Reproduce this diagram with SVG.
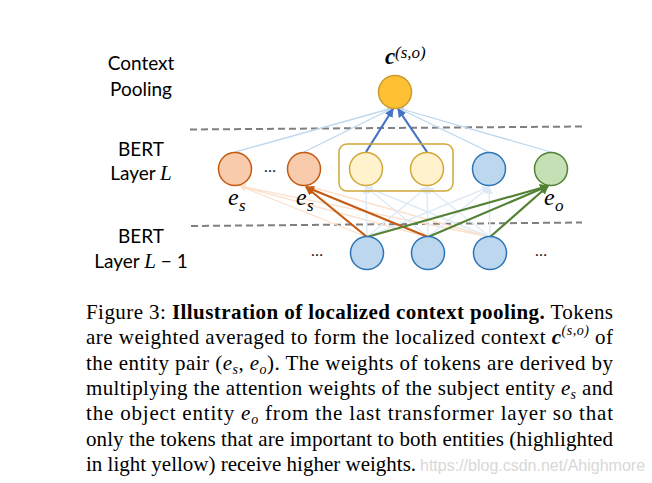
<svg xmlns="http://www.w3.org/2000/svg" width="652" height="483" viewBox="0 0 652 483">
<style>
.lbl{font-family:Lato,"Open Sans",sans-serif;font-size:19px;fill:#000;text-anchor:middle}
.math{font-family:"Liberation Serif","DejaVu Serif",serif;font-style:italic}
.cap{font-family:"Liberation Serif","Times New Roman",serif;font-size:21px;fill:#000}
.dots{font-family:Lato,sans-serif;font-size:16px;fill:#222;text-anchor:middle}
.dash{stroke:#7f7f7f;stroke-width:2;stroke-dasharray:7 4;fill:none}
.or{fill:#F8CBAD;stroke:#C55A11;stroke-width:1.5}
.ye{fill:#FFF2CC;stroke:#D0A838;stroke-width:1.5}
.bl{fill:#BDD7EE;stroke:#2E75B6;stroke-width:1.5}
.gr{fill:#C5E0B4;stroke:#548235;stroke-width:1.5}
.top{fill:#FFC134;stroke:#CC9A2E;stroke-width:1.5}
.lb1{stroke:#BDD7EE;stroke-width:1.3;fill:none}
.lb2{stroke:#DEEBF7;stroke-width:1.5;fill:none}
.lo{stroke:#FBE0CC;stroke-width:1.3;fill:none}
.tor{stroke:#C55A11;stroke-width:2.2;fill:none}
.tgr{stroke:#548235;stroke-width:2.2;fill:none}
.tbl{stroke:#4472C4;stroke-width:2.2;fill:none}
</style>
<defs>
<marker id="mOr" viewBox="0 0 10 10" refX="9" refY="5" markerWidth="4" markerHeight="4" orient="auto" markerUnits="strokeWidth"><path d="M0,0 L10,5 L0,10 z" fill="#C55A11"/></marker>
<marker id="mGr" viewBox="0 0 10 10" refX="9" refY="5" markerWidth="4" markerHeight="4" orient="auto" markerUnits="strokeWidth"><path d="M0,0 L10,5 L0,10 z" fill="#548235"/></marker>
<marker id="mBl" viewBox="0 0 10 10" refX="9" refY="5" markerWidth="4" markerHeight="4" orient="auto" markerUnits="strokeWidth"><path d="M0,0 L10,5 L0,10 z" fill="#4472C4"/></marker>
<marker id="mLb" viewBox="0 0 10 10" refX="9" refY="5" markerWidth="5" markerHeight="5" orient="auto" markerUnits="strokeWidth"><path d="M0,0 L10,5 L0,10 z" fill="#DEEBF7"/></marker>
<marker id="mLb1" viewBox="0 0 10 10" refX="9" refY="5" markerWidth="5" markerHeight="5" orient="auto" markerUnits="strokeWidth"><path d="M0,0 L10,5 L0,10 z" fill="#BDD7EE"/></marker>
<marker id="mLo" viewBox="0 0 10 10" refX="9" refY="5" markerWidth="5" markerHeight="5" orient="auto" markerUnits="strokeWidth"><path d="M0,0 L10,5 L0,10 z" fill="#FBE0CC"/></marker>
</defs>

<!-- layer labels -->
<g id="labels">
<text class="lbl" x="141" y="70">Context</text>
<text class="lbl" x="141" y="96">Pooling</text>
<text class="lbl" x="141" y="156">BERT</text>
<text class="lbl" x="141" y="180">Layer <tspan class="math" font-size="21">L</tspan></text>
<text class="lbl" x="141" y="243">BERT</text>
<text class="lbl" x="141" y="268">Layer <tspan class="math" font-size="21">L</tspan> − 1</text>
</g>

<!-- dashed separators -->
<line class="dash" x1="190" y1="129.5" x2="582" y2="126.5"/>
<line class="dash" x1="191" y1="226" x2="582" y2="222.5"/>

<g id="connectors">
<!-- light lines from layer L to top -->
<line class="lb1" x1="235" y1="152" x2="393" y2="108" marker-end="url(#mLb1)"/>
<line class="lb1" x1="304" y1="152" x2="393" y2="108" marker-end="url(#mLb1)"/>
<line class="lb1" x1="489" y1="152" x2="398" y2="108" marker-end="url(#mLb1)"/>
<line class="lb1" x1="551" y1="152" x2="398" y2="108" marker-end="url(#mLb1)"/>
<!-- light lines from L-1 to layer L -->
<line class="lo" x1="367" y1="237" x2="240" y2="186" marker-end="url(#mLo)"/>
<line class="lo" x1="428" y1="237" x2="240" y2="186" marker-end="url(#mLo)"/>
<line class="lo" x1="490" y1="237" x2="240" y2="186" marker-end="url(#mLo)"/>
<line class="lo" x1="490" y1="237" x2="308" y2="186"/>
<line class="lb2" x1="367" y1="237" x2="366" y2="187" marker-end="url(#mLb)"/>
<line class="lb2" x1="428" y1="237" x2="366" y2="187" marker-end="url(#mLb)"/>
<line class="lb2" x1="490" y1="237" x2="366" y2="187" marker-end="url(#mLb)"/>
<line class="lb2" x1="367" y1="237" x2="427" y2="187" marker-end="url(#mLb)"/>
<line class="lb2" x1="428" y1="237" x2="427" y2="187" marker-end="url(#mLb)"/>
<line class="lb2" x1="490" y1="237" x2="427" y2="187" marker-end="url(#mLb)"/>
<line class="lb2" x1="367" y1="237" x2="489" y2="187" marker-end="url(#mLb)"/>
<line class="lb2" x1="428" y1="237" x2="489" y2="187" marker-end="url(#mLb)"/>
<line class="lb2" x1="490" y1="237" x2="489" y2="187" marker-end="url(#mLb)"/>
<!-- strong lines -->
<line class="tor" x1="367" y1="237" x2="306" y2="187" marker-end="url(#mOr)"/>
<line class="tor" x1="428" y1="237" x2="306" y2="187" marker-end="url(#mOr)"/>
<line class="tgr" x1="367" y1="237" x2="548" y2="186" marker-end="url(#mGr)"/>
<line class="tgr" x1="428" y1="237" x2="548" y2="186" marker-end="url(#mGr)"/>
<line class="tgr" x1="490" y1="237" x2="548" y2="186" marker-end="url(#mGr)"/>
<line class="tbl" x1="366" y1="152" x2="393" y2="109" marker-end="url(#mBl)"/>
<line class="tbl" x1="427" y1="152" x2="398" y2="109" marker-end="url(#mBl)"/>
</g>

<g id="context">
<circle class="top" cx="395" cy="92" r="16.5"/>
<text x="385" y="64" class="math" font-size="23" font-weight="bold">c</text>
<text x="395" y="58" class="math" font-size="17">(s,o)</text>
</g>

<g id="box"><rect x="339" y="144" width="114" height="47" rx="8" fill="none" stroke="#D0A838" stroke-width="1.5"/></g>
<g id="n1"><circle class="or" cx="235" cy="169" r="16.5"/><text class="math" x="228" y="205" font-size="24">e</text><text class="math" x="239" y="211" font-size="17">s</text></g>
<g id="dots1"><text class="dots" x="270" y="172">…</text></g>
<g id="n2"><circle class="or" cx="304" cy="169" r="16.5"/><text class="math" x="296" y="205" font-size="24">e</text><text class="math" x="307" y="211" font-size="17">s</text></g>
<g id="n3"><circle class="ye" cx="366" cy="169" r="16.5"/></g>
<g id="n4"><circle class="ye" cx="427" cy="169" r="16.5"/></g>
<g id="n5"><circle class="bl" cx="489" cy="169" r="16.5"/></g>
<g id="n6"><circle class="gr" cx="551" cy="169" r="16.5"/><text class="math" x="544" y="205" font-size="24">e</text><text class="math" x="555" y="211" font-size="17">o</text></g>

<g id="dots2"><text class="dots" x="317" y="256">…</text></g>
<g id="b1"><circle class="bl" cx="367" cy="253" r="16.5"/></g>
<g id="b2"><circle class="bl" cx="428" cy="253" r="16.5"/></g>
<g id="b3"><circle class="bl" cx="490" cy="253" r="16.5"/></g>
<g id="dots3"><text class="dots" x="541" y="256">…</text></g>

<g id="caption">
<text class="cap" x="86" y="318.5" textLength="527" lengthAdjust="spacing">Figure 3: <tspan font-weight="bold">Illustration of localized context pooling.</tspan> Tokens</text>
<text class="cap" x="86" y="344" textLength="527" lengthAdjust="spacing">are weighted averaged to form the localized context <tspan font-style="italic" font-weight="bold">c</tspan><tspan font-style="italic" font-size="14" dy="-9">(s,o)</tspan><tspan dy="9"> of</tspan></text>
<text class="cap" x="86" y="369.5" textLength="527" lengthAdjust="spacing">the entity pair (<tspan font-style="italic">e</tspan><tspan font-style="italic" font-size="14" dy="4">s</tspan><tspan dy="-4">, </tspan><tspan font-style="italic">e</tspan><tspan font-style="italic" font-size="14" dy="4">o</tspan><tspan dy="-4">). The weights of tokens are derived by</tspan></text>
<text class="cap" x="86" y="395" textLength="527" lengthAdjust="spacing">multiplying the attention weights of the subject entity <tspan font-style="italic">e</tspan><tspan font-style="italic" font-size="14" dy="4">s</tspan><tspan dy="-4"> and</tspan></text>
<text class="cap" x="86" y="420.3" textLength="527" lengthAdjust="spacing">the object entity <tspan font-style="italic">e</tspan><tspan font-style="italic" font-size="14" dy="4">o</tspan><tspan dy="-4"> from the last transformer layer so that</tspan></text>
<text class="cap" x="86" y="445.6" textLength="527" lengthAdjust="spacing">only the tokens that are important to both entities (highlighted</text>
<text class="cap" x="86" y="470.8">in light yellow) receive higher weights.</text>
<text x="420" y="470.8" font-family="'Liberation Sans',Arial,sans-serif" font-size="16" fill="#D8D8D8">https://blog.csdn.net/Ahighmore</text>
</g>
</svg>
